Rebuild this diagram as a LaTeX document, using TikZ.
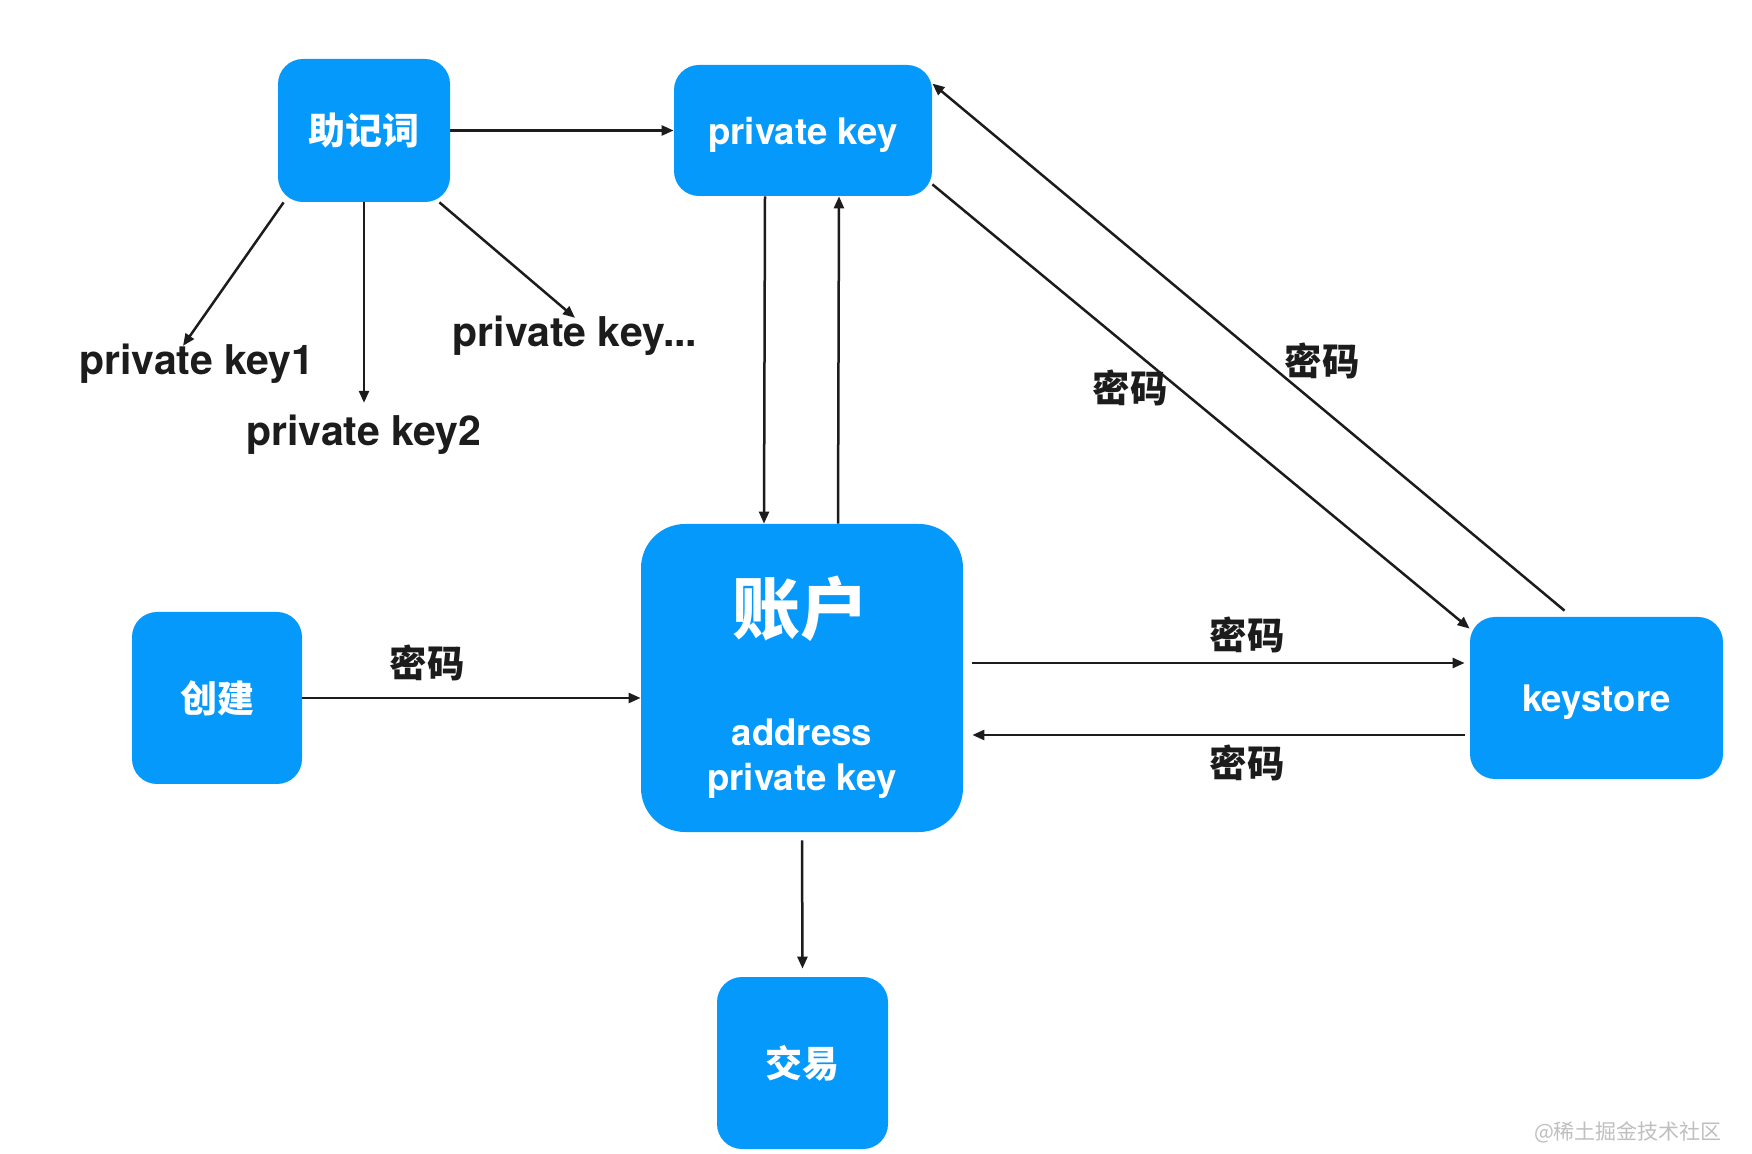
\documentclass[tikz,border=0pt]{standalone}
\usepackage{fontspec}
\setmainfont{TeX Gyre Heros}
\newfontfamily\cjk{Noto Sans CJK SC}
\usetikzlibrary{arrows.meta}
\definecolor{boxblue}{RGB}{6,153,252}
\definecolor{ink}{RGB}{28,28,28}
\begin{document}
\begin{tikzpicture}[x=0.5pt,y=-0.5pt,
  box/.style={fill=boxblue,draw=none,rounded corners=12.5pt,inner sep=0pt,text=white},
  latinbox/.style={box,text depth=0pt,font=\bfseries\fontsize{18.3}{20}\selectfont},
  cjkbox/.style={box,font=\cjk\bfseries\fontsize{18.5}{20}\selectfont},
  boxtext/.style={inner sep=0pt,text=white},
  keylabel/.style={inner sep=0pt,text=ink,font=\bfseries\fontsize{20.5}{24}\selectfont},
  pwlabel/.style={inner sep=0pt,text=ink,font=\cjk\bfseries\fontsize{18.7}{22}\selectfont},
  arr/.style={-{Triangle[length=6pt,width=5pt]},line width=1.25pt,draw=ink}]
\fill[white] (0,0) rectangle (1752,1154);
\useasboundingbox (0,0) rectangle (1752,1154);

% boxes
\node[cjkbox,minimum width=86pt,minimum height=71.5pt] (mnem) at (364,130.5) {助记词};
\node[latinbox,minimum width=129pt,minimum height=65.5pt] (pk) at (803,130.5) {private key};
\node[box,rounded corners=22pt,minimum width=161pt,minimum height=154pt] (acct) at (802,678) {};
\node[cjkbox,minimum width=85pt,minimum height=86pt] (create) at (217,698) {创建};
\node[latinbox,minimum width=126.5pt,minimum height=81pt] (ks) at (1596.5,698) {keystore};
\node[cjkbox,minimum width=85.5pt,minimum height=86pt] (tx) at (802.5,1063) {交易};

% texts inside the account box
\node[boxtext,font=\cjk\bfseries\fontsize{34}{36}\selectfont] (acctt) at (800,609) {账户};
\node[boxtext,font=\bfseries\fontsize{18.3}{20}\selectfont] (addr) at (802,732) {address};
\node[boxtext,font=\bfseries\fontsize{18.3}{20}\selectfont] (apk) at (802,781) {private key};

% derived keys
\node[keylabel] (pk1) at (197,364) {private key1};
\node[keylabel] (pk2) at (364,435) {private key2};
\node[keylabel] (pkn) at (575,336) {private key...};

% arrows from mnemonic
\draw[arr] (mnem.east) -- (pk.west);
\draw[arr] ([xshift=3pt]mnem.south west) -- ([xshift=-7pt,yshift=-1pt]pk1.north);
\draw[arr] (mnem.south) -- ([yshift=6pt]pk2.north);
\draw[arr] ([xshift=-5.5pt]mnem.south east) -- ([yshift=-1pt]pkn.north);

% private key <-> account
\draw[arr] ([xshift=-19pt]pk.south) -- ([xshift=-19pt]acct.north);
\draw[arr] ([xshift=18pt]acct.north) -- ([xshift=18pt]pk.south);

% private key <-> keystore
\draw[arr] ([yshift=6pt]pk.south east) -- ([yshift=-6pt]ks.north west);
\draw[arr] ([xshift=-16pt,yshift=3pt]ks.north) -- ([yshift=-9.5pt]pk.north east);
\node[pwlabel] (pw1) at (1130,388) {密码};
\node[pwlabel] (pw2) at (1322,361) {密码};

% account <-> keystore
\coordinate (r1) at ([xshift=4.5pt,yshift=7.5pt]acct.east);
\coordinate (r2) at ([xshift=-2.5pt,yshift=-18.5pt]ks.west);
\draw[arr] (r1) -- (r1 -| r2);
\draw[arr] (r2) -- (r2 -| r1);
\node[pwlabel] (pw3) at (1247,635) {密码};
\node[pwlabel] (pw4) at (1247,763) {密码};

% create -> account
\draw[arr] (create.east) -- (create.east -| acct.west);
\node[pwlabel] (pw5) at (427,663) {密码};

% account -> transaction
\draw[arr] ([yshift=-4pt]acct.south) -- ([yshift=4pt]tx.north);

% watermark
\node[inner sep=0pt,text=black!25,font=\cjk\fontsize{10.5}{12}\selectfont] (wm) at (1628,1132) {@稀土掘金技术社区};
\end{tikzpicture}
\end{document}
